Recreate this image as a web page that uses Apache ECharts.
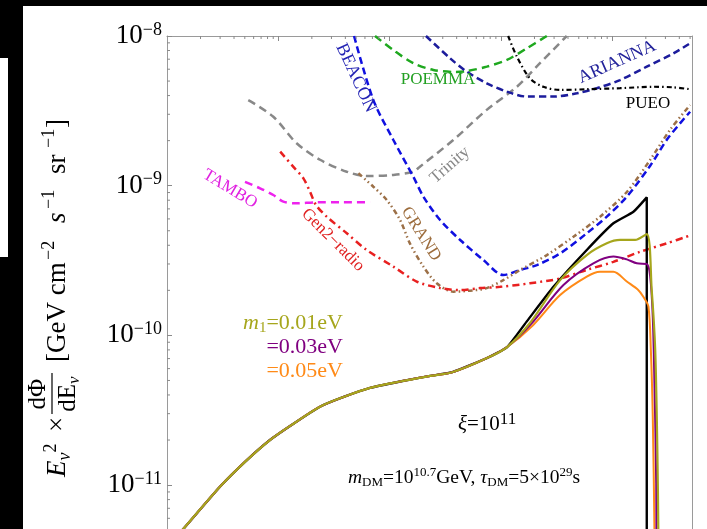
<!DOCTYPE html>
<html>
<head>
<meta charset="utf-8">
<script src="https://cdn.jsdelivr.net/npm/echarts@6/dist/echarts.min.js"></script>
<style>
  html, body { margin: 0; padding: 0; background: #000; }
  #chart { width: 707px; height: 529px; }
</style>
</head>
<body>
<div id="chart"></div>
<script>
// Axis ranges: neutrino energy in GeV, flux in GeV cm^-2 s^-1 sr^-1
const energyMin = 1e6;
const energyMax = 5.2e10;
const fluxMin = 5.09e-12;
const fluxMax = 1e-8;

// Tick positions
const yLabelValues = [1e-8, 1e-9, 1e-10, 1e-11];
const xMajorTicks = [1e7, 1e8, 1e9, 1e10];
const xMinorTicks = [
  2e6, 3e6, 4e6, 5e6, 6e6, 7e6, 8e6, 9e6,
  2e7, 3e7, 4e7, 5e7, 6e7, 7e7, 8e7, 9e7,
  2e8, 3e8, 4e8, 5e8, 6e8, 7e8, 8e8, 9e8,
  2e9, 3e9, 4e9, 5e9, 6e9, 7e9, 8e9, 9e9,
  2e10, 3e10, 4e10, 5e10
];
const yMinorTicks = [
  6e-12, 7e-12, 8e-12, 9e-12,
  2e-11, 3e-11, 4e-11, 5e-11, 6e-11, 7e-11, 8e-11, 9e-11,
  2e-10, 3e-10, 4e-10, 5e-10, 6e-10, 7e-10, 8e-10, 9e-10,
  2e-9, 3e-9, 4e-9, 5e-9, 6e-9, 7e-9, 8e-9, 9e-9
];

// Experimental sensitivities [E (GeV), E^2 dPhi/dE]
const beacon = [[4.79e7,1.00e-8],[7.14e7,3.73e-9],[1.08e8,2.02e-9],[1.63e8,1.15e-9],[2.01e8,8.45e-10],[2.84e8,5.90e-10],[4.30e8,4.34e-10],[6.95e8,3.19e-10],[1.05e9,2.53e-10],[1.49e9,2.74e-10],[2.10e9,2.95e-10],[3.40e9,3.53e-10],[5.90e9,4.81e-10],[8.93e9,6.21e-10],[1.35e10,8.45e-10],[2.19e10,1.36e-9],[3.17e10,2.08e-9],[5.00e10,3.12e-9]];
const arianna = [[2.12e8,1.00e-8],[3.49e8,7.10e-9],[4.93e8,5.78e-9],[7.45e8,4.83e-9],[1.13e9,4.25e-9],[1.71e9,3.94e-9],[2.96e9,3.94e-9],[4.80e9,4.14e-9],[7.26e9,4.48e-9],[1.175e10,5.08e-9],[2.04e10,6.24e-9],[3.54e10,7.66e-9],[5.00e10,8.94e-9]];
const poemma = [[7.39e7,1.00e-8],[1.08e8,8.05e-9],[1.63e8,6.58e-9],[2.47e8,5.93e-9],[3.87e8,5.75e-9],[4.93e8,5.83e-9],[7.45e8,6.24e-9],[1.13e9,6.92e-9],[1.71e9,8.28e-9],[2.58e9,1.00e-8]];
const pueo = [[1.16e9,1.00e-8],[1.39e9,7.28e-9],[1.82e9,5.21e-9],[2.40e9,4.58e-9],[3.40e9,4.36e-9],[5.90e9,4.41e-9],[1.175e10,4.48e-9],[2.34e10,4.58e-9],[3.54e10,4.54e-9],[5.00e10,4.41e-9]];
const trinity = [[5.37e6,3.73e-9],[9.02e6,2.89e-9],[1.46e7,1.92e-9],[2.37e7,1.49e-9],[4.12e7,1.24e-9],[6.22e7,1.16e-9],[1.08e8,1.18e-9],[1.63e8,1.24e-9],[1.87e8,1.34e-9],[3.73e8,2.02e-9],[7.45e8,3.21e-9],[1.39e9,4.58e-9],[2.24e9,6.58e-9],[3.90e9,1.00e-8]];
const tambo = [[5.02e6,1.06e-9],[6.85e6,9.61e-10],[9.02e6,8.67e-10],[1.11e7,7.82e-10],[1.46e7,7.62e-10],[2.21e7,7.74e-10],[3.58e7,7.74e-10],[6.67e7,7.74e-10]];
const gen2Radio = [[1.04e7,1.69e-9],[1.36e7,1.34e-9],[1.68e7,1.12e-9],[1.93e7,9.08e-10],[2.18e7,7.43e-10],[2.72e7,6.21e-10],[4.12e7,4.81e-10],[6.22e7,3.72e-10],[1.08e8,2.88e-10],[1.75e8,2.29e-10],[2.84e8,2.07e-10],[4.30e8,2.01e-10],[6.49e8,2.07e-10],[9.82e8,2.11e-10],[1.82e9,2.23e-10],[3.40e9,2.40e-10],[5.90e9,2.74e-10],[1.023e10,3.10e-10],[1.78e10,3.62e-10],[3.09e10,4.12e-10],[4.83e10,4.61e-10]];
const grand = [[5.24e7,1.21e-9],[7.14e7,9.84e-10],[9.42e7,8.02e-10],[1.24e8,5.90e-10],[1.52e8,4.12e-10],[2.01e8,2.88e-10],[2.65e8,2.23e-10],[3.73e8,1.96e-10],[5.27e8,1.99e-10],[7.45e8,2.07e-10],[1.05e9,2.34e-10],[1.49e9,2.74e-10],[2.58e9,3.44e-10],[4.48e9,4.56e-10],[7.76e9,6.21e-10],[1.35e10,9.08e-10],[2.19e10,1.49e-9],[3.30e10,2.36e-9],[5.00e10,3.46e-9]];

// Dark-matter decay spectra: common low-energy branch, then one tail per m1
const dmShared = [[1.18e6,4.44e-12],[1.40e6,5.09e-12],[2.99e6,9.75e-12],[5.02e6,1.43e-11],[8.41e6,2.00e-11],[1.41e7,2.61e-11],[2.37e7,3.34e-11],[3.97e7,3.91e-11],[6.67e7,4.46e-11],[1.24e8,4.92e-11],[2.31e8,5.36e-11],[3.71e8,5.70e-11],[7.50e8,7.06e-11],[1.135e9,8.36e-11]];
const dmTailBlack = [[1.72e9,1.25e-10],[2.96e9,2.11e-10],[5.90e9,3.72e-10],[1.023e10,5.61e-10],[1.549e10,6.70e-10],[2.04e10,8.36e-10],[2.04e10,7.0e-10],[2.04e10,1e-12]];
const dmTailM001 = [[1.82e9,1.21e-10],[3.40e9,2.34e-10],[5.90e9,3.44e-10],[8.93e9,4.12e-10],[1.175e10,4.34e-10],[1.60e10,4.34e-10],[2.04e10,4.75e-10],[2.26e10,2.01e-10],[2.43e10,7.98e-11],[2.54e10,1.71e-11],[2.59e10,5.16e-12],[2.62e10,1.71e-12]];
const dmTailM003 = [[1.86e9,1.19e-10],[3.64e9,2.17e-10],[6.76e9,3.03e-10],[1.023e10,3.36e-10],[1.35e10,3.22e-10],[1.66e10,3.03e-10],[2.04e10,3.00e-10],[2.19e10,2.47e-10],[2.31e10,1.33e-10],[2.39e10,4.81e-11],[2.48e10,1.03e-11],[2.50e10,1.71e-12]];
const dmTailM005 = [[1.94e9,1.17e-10],[3.40e9,1.86e-10],[5.90e9,2.47e-10],[7.76e9,2.66e-10],[1.023e10,2.66e-10],[1.35e10,2.29e-10],[1.71e10,2.01e-10],[1.90e10,1.81e-10],[2.11e10,1.56e-10],[2.22e10,7.98e-11],[2.31e10,2.86e-11],[2.39e10,5.16e-12],[2.41e10,1.71e-12]];

const SERIF = 'Liberation Serif';

// Rich-text styles (zrender naming) for graphic texts with sub/superscripts
function richSet(size, color, supRatio) {
  const small = Math.round(size * 0.68);
  const supSize = Math.round(size * (supRatio || 0.68));
  return {
    n:   { fontFamily: SERIF, fontSize: size, fill: color, lineHeight: Math.round(size * 1.2) },
    i:   { fontFamily: SERIF, fontSize: size, fill: color, fontStyle: 'italic', lineHeight: Math.round(size * 1.2) },
    sub: { fontFamily: SERIF, fontSize: small, fill: color, lineHeight: Math.round(small * 1.1), verticalAlign: 'bottom' },
    sup: { fontFamily: SERIF, fontSize: supSize, fill: color, lineHeight: Math.round(supSize * 1.05), verticalAlign: 'top' },
    isub:{ fontFamily: SERIF, fontSize: small, fill: color, fontStyle: 'italic', lineHeight: Math.round(small * 1.1), verticalAlign: 'bottom' }
  };
}

function richText(x, y, text, size, color, align, supRatio) {
  return {
    type: 'text', x: x, y: y, z: 50,
    style: { text: text, rich: richSet(size, color, supRatio), fill: color, align: align || 'left', verticalAlign: 'middle' }
  };
}

function plainText(x, y, text, size, color, italic) {
  return {
    type: 'text', x: x, y: y,
    style: { text: text, fill: color, fontFamily: SERIF, fontSize: size, fontStyle: italic ? 'italic' : 'normal', align: 'left', verticalAlign: 'middle' }
  };
}

function detectorLabel(x, y, text, color, deg, size) {
  return {
    type: 'text', x: x, y: y, rotation: deg * Math.PI / 180, z: 50,
    style: { text: text, fill: color, fontFamily: SERIF, fontSize: size || 17, align: 'center', verticalAlign: 'middle' }
  };
}

function dashed(name, data, color, dash, width) {
  return {
    name: name, type: 'line', data: data, showSymbol: false, smooth: 0.3,
    lineStyle: { color: color, width: width || 2.5, type: dash, cap: 'butt' },
    z: 3, silent: true
  };
}

function dmLine(name, data, color, width, smooth, z) {
  return {
    name: name, type: 'line', data: data, showSymbol: false, smooth: smooth,
    lineStyle: { color: color, width: width, type: 'solid' },
    z: z, silent: true
  };
}

function tickSeries(points, dirX, dirY, len) {
  return {
    type: 'custom', silent: true, z: 4,
    data: points,
    renderItem: function (params, api) {
      const p = api.coord([api.value(0), api.value(1)]);
      return {
        type: 'line',
        shape: { x1: p[0], y1: p[1], x2: p[0] + dirX * len, y2: p[1] + dirY * len },
        style: { stroke: '#8a8a8a', lineWidth: 1 }
      };
    }
  };
}

const chart = echarts.init(document.getElementById('chart'), null, { renderer: 'canvas' });

const titleRich = richSet(27, '#000');
const fracRich = richSet(25, '#000');

chart.setOption({
  backgroundColor: '#000',
  animation: false,
  grid: { left: 167, top: 36, right: 15, bottom: 0, containLabel: false },
  xAxis: [{
    type: 'log', min: energyMin, max: energyMax, position: 'top',
    axisLine: { show: true, lineStyle: { color: '#9a9a9a', width: 1 } },
    axisTick: { show: true, inside: true, length: 5, customValues: xMajorTicks, lineStyle: { color: '#8a8a8a' } },
    axisLabel: { show: false },
    splitLine: { show: false }
  }],
  yAxis: [{
    type: 'log', min: fluxMin, max: fluxMax, position: 'left',
    axisLine: { show: true, lineStyle: { color: '#9a9a9a', width: 1 } },
    axisTick: { show: true, inside: true, length: 5, customValues: yLabelValues, lineStyle: { color: '#8a8a8a' } },
    axisLabel: {
      show: true, margin: 5, customValues: yLabelValues,
      formatter: function (v) {
        const e = Math.round(Math.log10(v));
        return '{b|10}{s|\u2212' + (-e) + '}';
      },
      rich: {
        b: { fontFamily: SERIF, fontSize: 27, color: '#000', lineHeight: 30 },
        s: { fontFamily: SERIF, fontSize: 18, color: '#000', lineHeight: 18, verticalAlign: 'top' }
      }
    },
    splitLine: { show: false }
  }, {
    type: 'log', min: fluxMin, max: fluxMax, position: 'right',
    axisLine: { show: true, lineStyle: { color: '#9a9a9a', width: 1 } },
    axisTick: { show: false }, axisLabel: { show: false }, splitLine: { show: false }
  }],
  graphic: {
    elements: [
      // page background panels
      { type: 'rect', z: -100, shape: { x: 23, y: 6, width: 684, height: 523 }, style: { fill: '#fff' } },
      { type: 'rect', z: -100, shape: { x: 0, y: 58, width: 8, height: 199 }, style: { fill: '#fff' } },

      // y-axis title, rotated to read upwards
      {
        type: 'group', x: 58, y: 477, rotation: Math.PI / 2, z: 50,
        children: [
          { type: 'text', x: 0, y: 0, style: { text: '{i|E}{isub|\u03bd}{sup|2}', rich: titleRich, align: 'left', verticalAlign: 'middle' } },
          plainText(45, 0, '\u00d7', 27, '#000'),
          { type: 'text', x: 83, y: -20, style: { text: 'd\u03a6', fill: '#000', fontFamily: SERIF, fontSize: 25, align: 'center', verticalAlign: 'middle' } },
          { type: 'line', shape: { x1: 63, y1: -6, x2: 104, y2: -6 }, style: { stroke: '#000', lineWidth: 1.2 } },
          { type: 'text', x: 83, y: 10, style: { text: '{n|dE}{isub|\u03bd}', rich: fracRich, align: 'center', verticalAlign: 'middle' } },
          plainText(115, 0, '[GeV cm', 27, '#000'),
          plainText(217, -9, '\u22122', 18, '#000'),
          plainText(254, 0, 's', 27, '#000', true),
          plainText(268, -9, '\u22121', 18, '#000'),
          plainText(303, 0, 'sr', 27, '#000'),
          plainText(329, -9, '\u22121', 18, '#000'),
          plainText(349, 0, ']', 27, '#000')
        ]
      },

      // neutrino mass legend
      richText(343, 323, '{i|m}{sub|1}{n|=0.01eV}', 22, '#a6a61c', 'right'),
      richText(343, 347, '{n|=0.03eV}', 22, '#800080', 'right'),
      richText(343, 371, '{n|=0.05eV}', 22, '#ff8a17', 'right'),

      // model parameters
      richText(458, 424, '{i|\u03be}{n|=10}{sup|11}', 21, '#000', 'left', 0.8),
      richText(348, 478, '{i|m}{sub|DM}{n|=10}{sup|10.7}{n|GeV, }{i|\u03c4}{sub|DM}{n|=5\u00d710}{sup|29}{n|s}', 19.5, '#000', 'left'),

      // experiment labels
      detectorLabel(356, 78, 'BEACON', '#2424b4', -65, 18),
      detectorLabel(438, 80, 'POEMMA', '#22a022', 0, 17),
      detectorLabel(617, 62, 'ARIANNA', '#22229a', 24, 18),
      detectorLabel(648, 104, 'PUEO', '#000', 0, 17),
      detectorLabel(450, 165, 'Trinity', '#888', 41, 17),
      detectorLabel(230, 189, 'TAMBO', '#e020e0', -31, 17),
      detectorLabel(333, 240, 'Gen2\u2212radio', '#e02020', -45, 17),
      detectorLabel(421, 234, 'GRAND', '#9c6c3c', -58, 17)
    ]
  },
  series: [
    tickSeries(xMinorTicks.map(v => [v, fluxMax]), 0, 1, 3),
    tickSeries(yMinorTicks.map(v => [energyMin, v]), 1, 0, 3),

    dashed('TAMBO', tambo, '#ee22ee', [8, 5]),
    dashed('Trinity', trinity, '#888888', [8, 5]),
    dashed('POEMMA', poemma, '#1fa81f', [8, 5]),
    dashed('ARIANNA', arianna, '#1c1c9c', [7, 4]),
    dashed('BEACON', beacon, '#1010e0', [7, 4]),
    dashed('PUEO', pueo, '#000000', [5, 3, 1.5, 3], 2.2),
    dashed('GRAND', grand, '#9c7047', [5, 3, 1.5, 3, 1.5, 3]),
    dashed('Gen2-radio', gen2Radio, '#e82020', [7, 4, 2, 4]),

    dmLine('m1 = 0 (black)', dmShared.concat(dmTailBlack), '#000000', 2.4, 0.15, 5),
    dmLine('m1 = 0.05 eV', dmShared.concat(dmTailM005), '#ff8a17', 2, 0.3, 6),
    dmLine('m1 = 0.03 eV', dmShared.concat(dmTailM003), '#800080', 2, 0.3, 7),
    dmLine('m1 = 0.01 eV', dmShared.concat(dmTailM001), '#a6a61c', 2.2, 0.3, 8)
  ]
});
</script>
</body>
</html>
